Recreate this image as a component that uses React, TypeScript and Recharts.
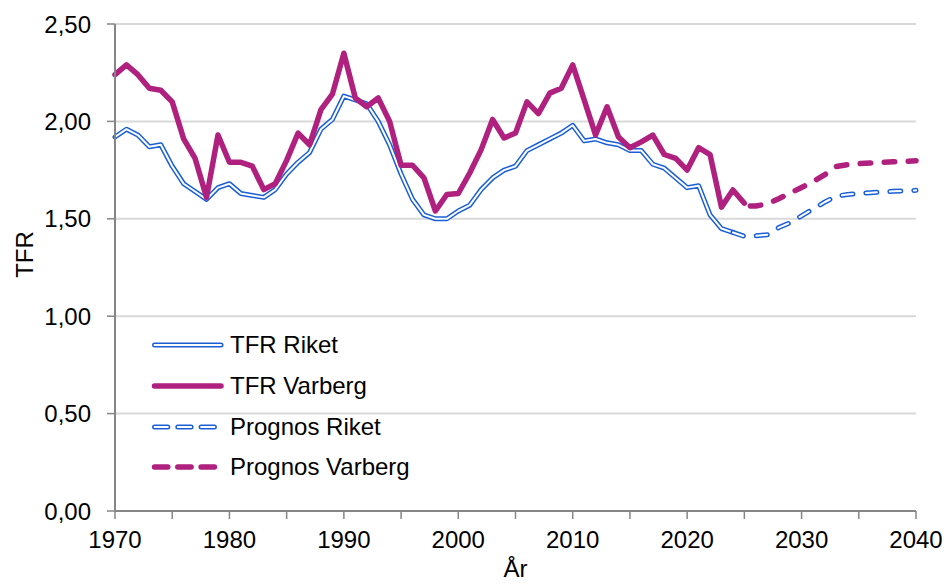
import React from 'react';
import { LineChart, Line, XAxis, YAxis, CartesianGrid, Legend } from 'recharts';

// TFR values
const FIRST_YEAR = 1970;
const LAST_YEAR = 2040;

// 1970–2024
const riket = [
  1.92, 1.96, 1.93, 1.87, 1.88, 1.77, 1.68, 1.64, 1.6, 1.66,
  1.68, 1.63, 1.62, 1.61, 1.65, 1.73, 1.79, 1.84, 1.96, 2.01,
  2.13, 2.11, 2.09, 2.0, 1.88, 1.73, 1.6, 1.52, 1.5, 1.5,
  1.54, 1.57, 1.65, 1.71, 1.75, 1.77, 1.85, 1.88, 1.91, 1.94,
  1.98, 1.9, 1.91, 1.89, 1.88, 1.85, 1.85, 1.78, 1.76, 1.71,
  1.66, 1.67, 1.52, 1.45, 1.43,
];

// 1970–2025
const varberg = [
  2.24, 2.29, 2.24, 2.17, 2.16, 2.1, 1.91, 1.81, 1.61, 1.93,
  1.79, 1.79, 1.77, 1.65, 1.68, 1.8, 1.94, 1.88, 2.06, 2.14,
  2.35, 2.12, 2.075, 2.12, 2.0, 1.775, 1.775, 1.71, 1.54, 1.625,
  1.63, 1.735, 1.855, 2.01, 1.915, 1.94, 2.1, 2.04, 2.145, 2.17,
  2.29, 2.11, 1.93, 2.075, 1.92, 1.865, 1.895, 1.93, 1.83, 1.81,
  1.75, 1.865, 1.83, 1.56, 1.648, 1.58,
];

const PROGNOS_RIKET_START = 2024;
const prognosRiket = [
  1.43, 1.41, 1.413, 1.418, 1.455, 1.48, 1.515, 1.55, 1.585, 1.615,
  1.625, 1.63, 1.634, 1.638, 1.641, 1.643, 1.646,
];

const PROGNOS_VARBERG_START = 2025;
const prognosVarberg = [
  1.566, 1.566, 1.576, 1.603, 1.632, 1.661, 1.69, 1.725, 1.768, 1.778,
  1.783, 1.786, 1.79, 1.793, 1.795, 1.798,
];

const xTicks = [1970, 1975, 1980, 1985, 1990, 1995, 2000, 2005, 2010, 2015, 2020, 2025, 2030, 2035, 2040];
const yTicks = [0, 0.5, 1, 1.5, 2, 2.5];

const BLUE = '#1a5fd6';
const MAGENTA = '#b0207e';
const AXIS = '#868686';
const GRID = '#d9d9d9';
const FONT = '"Liberation Sans", Arial, sans-serif';

const pick = (arr: number[], start: number, year: number) => {
  const i = year - start;
  return i >= 0 && i < arr.length ? arr[i] : null;
};

const data: any[] = [];
for (let y = FIRST_YEAR; y <= LAST_YEAR; y++) {
  data.push({
    year: y,
    riket: pick(riket, FIRST_YEAR, y),
    varberg: pick(varberg, FIRST_YEAR, y),
    prognosRiket: pick(prognosRiket, PROGNOS_RIKET_START, y),
    prognosVarberg: pick(prognosVarberg, PROGNOS_VARBERG_START, y),
  });
}

const legendItems = [
  { label: 'TFR Riket', color: BLUE, double: true, dashed: false },
  { label: 'TFR Varberg', color: MAGENTA, double: false, dashed: false },
  { label: 'Prognos Riket', color: BLUE, double: true, dashed: true },
  { label: 'Prognos Varberg', color: MAGENTA, double: false, dashed: true },
];

const LegendSample = ({ color, double, dashed }: { color: string; double: boolean; dashed: boolean }) => {
  const x2 = dashed ? 66.5 : 73;
  const dash = dashed ? '13.3 10' : undefined;
  return (
    <svg width={76} height={14} style={{ display: 'block' }}>
      <line x1={6.5} y1={7} x2={x2} y2={7} stroke={color} strokeWidth={double ? 5 : 5.5} strokeLinecap="round" strokeDasharray={dash} />
      {double && (
        <line x1={6.5} y1={7} x2={x2} y2={7} stroke="#fff" strokeWidth={2} strokeLinecap="round" strokeDasharray={dash} />
      )}
    </svg>
  );
};

const renderLegend = () => (
  <div style={{ fontFamily: FONT, fontSize: 24, color: '#000' }}>
    {legendItems.map((item) => (
      <div key={item.label} style={{ display: 'flex', alignItems: 'center', height: 40.7 }}>
        <LegendSample color={item.color} double={item.double} dashed={item.dashed} />
        <span style={{ marginLeft: 6, lineHeight: 1, whiteSpace: 'nowrap' }}>{item.label}</span>
      </div>
    ))}
  </div>
);

const renderYLabel = (props: any) => {
  const { viewBox } = props;
  const cx = viewBox.x + 24;
  const cy = viewBox.y + viewBox.height / 2 - 13;
  return (
    <text x={cx} y={cy} transform={`rotate(-90 ${cx} ${cy})`} textAnchor="middle" dominantBaseline="central" fontSize={24} fontFamily={FONT} fill="#000">
      TFR
    </text>
  );
};

const fmtY = (v: number) => v.toFixed(2).replace('.', ',');
const fmtX = (v: number) => (v % 10 === 0 ? String(v) : '');

const lineCommon = {
  type: 'linear' as const,
  dot: false,
  activeDot: false,
  isAnimationActive: false,
  strokeLinecap: 'round' as const,
  strokeLinejoin: 'round' as const,
  legendType: 'none' as const,
};

export default function App() {
  return (
    <div style={{ position: 'absolute', left: 0, top: 0, width: 947, height: 584, background: '#fff' }}>
      <LineChart width={947} height={584} data={data} margin={{ top: 24, right: 31, bottom: 0, left: 0 }}>
        <CartesianGrid vertical={false} stroke={GRID} strokeWidth={2} />
        <XAxis
          dataKey="year"
          type="number"
          domain={[FIRST_YEAR, LAST_YEAR]}
          ticks={xTicks}
          interval={0}
          tickFormatter={fmtX}
          height={73}
          tickSize={8}
          tickMargin={12}
          axisLine={{ stroke: AXIS, strokeWidth: 2 }}
          tickLine={{ stroke: AXIS, strokeWidth: 1.5 }}
          tick={{ fill: '#000', fontSize: 24, fontFamily: FONT }}
          label={{ value: 'År', position: 'insideBottom', offset: 7, fill: '#000', fontSize: 24, fontFamily: FONT }}
        />
        <YAxis
          type="number"
          domain={[0, 2.5]}
          ticks={yTicks}
          interval={0}
          tickFormatter={fmtY}
          width={115}
          tickSize={8}
          tickMargin={16}
          axisLine={{ stroke: AXIS, strokeWidth: 2 }}
          tickLine={{ stroke: AXIS, strokeWidth: 1.5 }}
          tick={{ fill: '#000', fontSize: 24, fontFamily: FONT }}
          label={{ content: renderYLabel }}
        />
        <Legend
          layout="vertical"
          align="center"
          verticalAlign="middle"
          content={renderLegend}
          wrapperStyle={{ left: 148, top: 325, width: 320, margin: 0, padding: 0 }}
        />
        <Line {...lineCommon} dataKey="riket" stroke={BLUE} strokeWidth={5} />
        <Line {...lineCommon} dataKey="riket" stroke="#fff" strokeWidth={2} />
        <Line {...lineCommon} dataKey="varberg" stroke={MAGENTA} strokeWidth={5.5} />
        <Line {...lineCommon} dataKey="prognosRiket" stroke={BLUE} strokeWidth={5} strokeDasharray="11 13" />
        <Line {...lineCommon} dataKey="prognosRiket" stroke="#fff" strokeWidth={2} strokeDasharray="11 13" />
        <Line {...lineCommon} dataKey="prognosVarberg" stroke={MAGENTA} strokeWidth={5.5} strokeDasharray="10.5 13.5" strokeDashoffset={-6} />
      </LineChart>
    </div>
  );
}
